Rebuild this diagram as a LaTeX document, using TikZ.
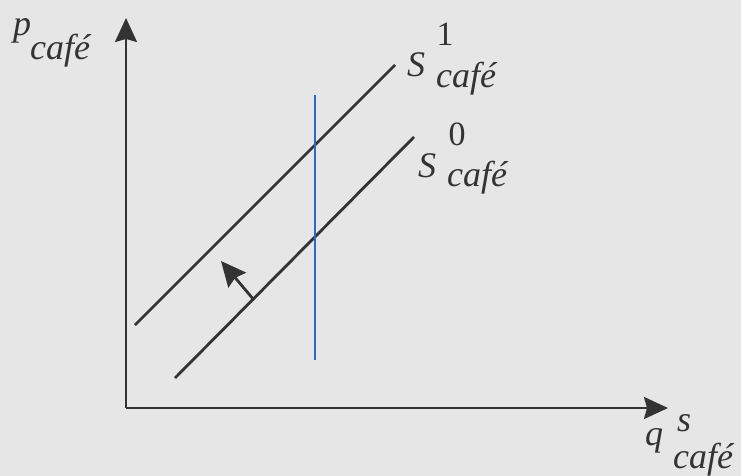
\documentclass[tikz,border=0pt]{standalone}
\usepackage{fontspec}
\setmainfont{Liberation Serif}
\usetikzlibrary{arrows.meta}
\definecolor{paper}{HTML}{E7E6E6}
\definecolor{ink}{HTML}{333333}
\definecolor{vline}{HTML}{2A6BC0}
\tikzset{
  axis/.style={ink, line width=2.2pt, -{Stealth[length=24pt,width=22pt,inset=3pt]}},
  supply/.style={ink, line width=2.8pt},
  shiftarrow/.style={ink, line width=2.8pt, -{Stealth[length=25pt,width=23pt,inset=3pt]}},
  lbl/.style={ink, inner sep=0pt, anchor=base west, font=\fontsize{36}{40}\selectfont\itshape},
  num/.style={ink, inner sep=0pt, anchor=base, font=\fontsize{34}{40}\selectfont},
}
\begin{document}
\begin{tikzpicture}[x=1pt,y=-1pt]
\fill[paper] (0,0) rectangle (741,476);
\useasboundingbox (0,0) rectangle (741,476);
% axes
\coordinate (O) at (126,408);
\coordinate (ytop) at (126,18);
\coordinate (xend) at (668,408);
\draw[axis] (O) -- (ytop);
\draw[axis] (O) -- (xend);
% supply curves
\coordinate (s1a) at (135,325);
\coordinate (s1b) at (395,65);
\coordinate (s0a) at (175,378);
\coordinate (s0b) at (414,137);
\draw[supply] (s1a) -- (s1b);
\draw[supply] (s0a) -- (s0b);
% blue vertical line
\coordinate (va) at (315,95);
\coordinate (vb) at (315,360);
\draw[vline, line width=1.4pt] (va) -- (vb);
% shift arrow
\coordinate (ar0) at (254,300);
\coordinate (ar1) at (221,261);
\draw[shiftarrow] (ar0) -- (ar1);
% labels
\node[lbl] (pl) at (13,36) {p};
\node[lbl] (pcafe) at (30,60) {café};
\node[num] (one) at (445,46) {1};
\node[lbl] (S1) at (407,77) {S};
\node[lbl] (S1c) at (436,88) {café};
\node[num] (zero) at (457,146) {0};
\node[lbl] (S0) at (418,177) {S};
\node[lbl] (S0c) at (447,186) {café};
\node[lbl] (q) at (645,445) {q};
\node[lbl] (qs) at (677,431) {s};
\node[lbl] (qc) at (673,468) {café};
\end{tikzpicture}
\end{document}
